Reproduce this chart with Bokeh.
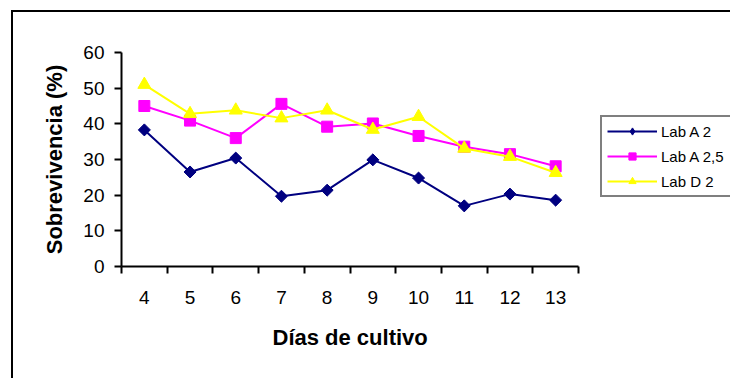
import math
from bokeh.plotting import figure
from bokeh.models import (FixedTicker, Range1d, Legend, LegendItem, ColumnDataSource,
                          InlineStyleSheet, Title)
from bokeh.embed import file_html
from bokeh.resources import INLINE

dias = [4, 5, 6, 7, 8, 9, 10, 11, 12, 13]
lab_a2 = [38.3, 26.5, 30.4, 19.7, 21.4, 29.9, 24.8, 17.0, 20.3, 18.6]
lab_a25 = [45.0, 40.9, 36.0, 45.6, 39.2, 40.1, 36.6, 33.6, 31.5, 28.1]
lab_d2 = [51.0, 42.8, 43.8, 41.6, 43.8, 38.4, 42.0, 33.1, 30.8, 26.3]
y_ticks = [0, 10, 20, 30, 40, 50, 60]
series_names = ["Lab A 2", "Lab A 2,5", "Lab D 2"]
x_title = "Días de cultivo"
y_title = "Sobrevivencia (%)"

FONT = "Liberation Sans"

# layout (pixels)
W, H = 730, 378
LEFT, RIGHT_AXIS_END, TOP, BOTTOM = 121, 578, 52, 266
x0, x1 = dias[0] - 0.5, dias[-1] + 0.5
px_per_x = (RIGHT_AXIS_END - LEFT) / (x1 - x0)
x_end = x1 + (W - RIGHT_AXIS_END) / px_per_x

p = figure(width=W, height=H, output_backend="svg", toolbar_location=None,
           x_range=Range1d(x0, x_end), y_range=Range1d(0, 60),
           min_border_left=LEFT, min_border_right=0, min_border_top=TOP,
           min_border_bottom=H - BOTTOM)
p.stylesheets = [InlineStyleSheet(css="""
:host { position: relative; }
:host::after { content: ""; position: absolute; left: 11px; top: 10px; right: 0; bottom: 0;
  border-left: 2px solid black; border-top: 2px solid black; pointer-events: none; }
""")]
p.outline_line_color = None
p.background_fill_color = "white"
p.border_fill_color = "white"
p.xgrid.visible = False
p.ygrid.visible = False

src = ColumnDataSource(dict(x=dias, a2=lab_a2, a25=lab_a25, d2=lab_d2))

l1 = p.line("x", "a2", source=src, line_color="#000080", line_width=2)
# diamond used for the legend entry; it sits fully under the rotated squares below
m1_leg = p.scatter("x", "a2", source=src, marker="diamond", size=10,
                   fill_color="#000080", line_color="#000080")
m1 = p.scatter("x", "a2", source=src, marker="square", angle=math.pi / 4, size=8.5,
               fill_color="#000080", line_color="#000080")
l2 = p.line("x", "a25", source=src, line_color="#FF00FF", line_width=2)
m2 = p.scatter("x", "a25", source=src, marker="square", size=11,
               fill_color="#FF00FF", line_color="#FF00FF")
l3 = p.line("x", "d2", source=src, line_color="#FFFF00", line_width=2)
m3 = p.scatter("x", "d2", source=src, marker="triangle", size=13,
               fill_color="#FFFF00", line_color="#FFFF00")

# axes
xa = p.xaxis[0]
xa.bounds = (x0, x1)
xa.ticker = FixedTicker(ticks=dias, minor_ticks=[d - 0.5 for d in dias] + [x1])
xa.axis_line_color = "black"
xa.axis_line_width = 2
xa.major_tick_out = 0
xa.major_tick_in = 0
xa.minor_tick_out = 7
xa.minor_tick_in = 0
xa.minor_tick_line_color = "black"
xa.minor_tick_line_width = 2
xa.major_label_text_font = FONT
xa.major_label_text_font_size = "19px"
xa.major_label_text_color = "black"
xa.major_label_standoff = 17

# x-axis title centred under the axis (not under the extended frame)
xt = Title(text=x_title, align="left", offset=151, standoff=32,
           text_font=FONT, text_font_style="bold", text_font_size="22px",
           text_color="black")
p.add_layout(xt, "below")

ya = p.yaxis[0]
ya.ticker = FixedTicker(ticks=y_ticks, minor_ticks=[])
ya.axis_line_color = "black"
ya.axis_line_width = 2
ya.major_tick_out = 7
ya.major_tick_in = 0
ya.major_tick_line_color = "black"
ya.major_tick_line_width = 2
ya.minor_tick_out = 0
ya.minor_tick_in = 0
ya.major_label_text_font = FONT
ya.major_label_text_font_size = "19px"
ya.major_label_text_color = "black"
ya.major_label_standoff = 10
ya.axis_label = y_title
ya.axis_label_text_font = FONT
ya.axis_label_text_font_style = "bold"
ya.axis_label_text_font_size = "22px"
ya.axis_label_text_color = "black"
ya.axis_label_standoff = 13

legend = Legend(items=[
    LegendItem(label=series_names[0], renderers=[l1, m1_leg]),
    LegendItem(label=series_names[1], renderers=[l2, m2]),
    LegendItem(label=series_names[2], renderers=[l3, m3]),
], location=(479, 69))
legend.border_line_color = "black"
legend.border_line_width = 2
legend.background_fill_color = "white"
legend.background_fill_alpha = 1
legend.label_text_font = FONT
legend.label_text_font_size = "15px"
legend.label_text_color = "black"
legend.glyph_width = 50
legend.glyph_height = 18
legend.label_height = 18
legend.label_width = 80
legend.spacing = 7
legend.padding = 5
legend.margin = 0
legend.label_standoff = 4
p.add_layout(legend, "center")

open("out.html", "w").write(file_html(p, INLINE))
